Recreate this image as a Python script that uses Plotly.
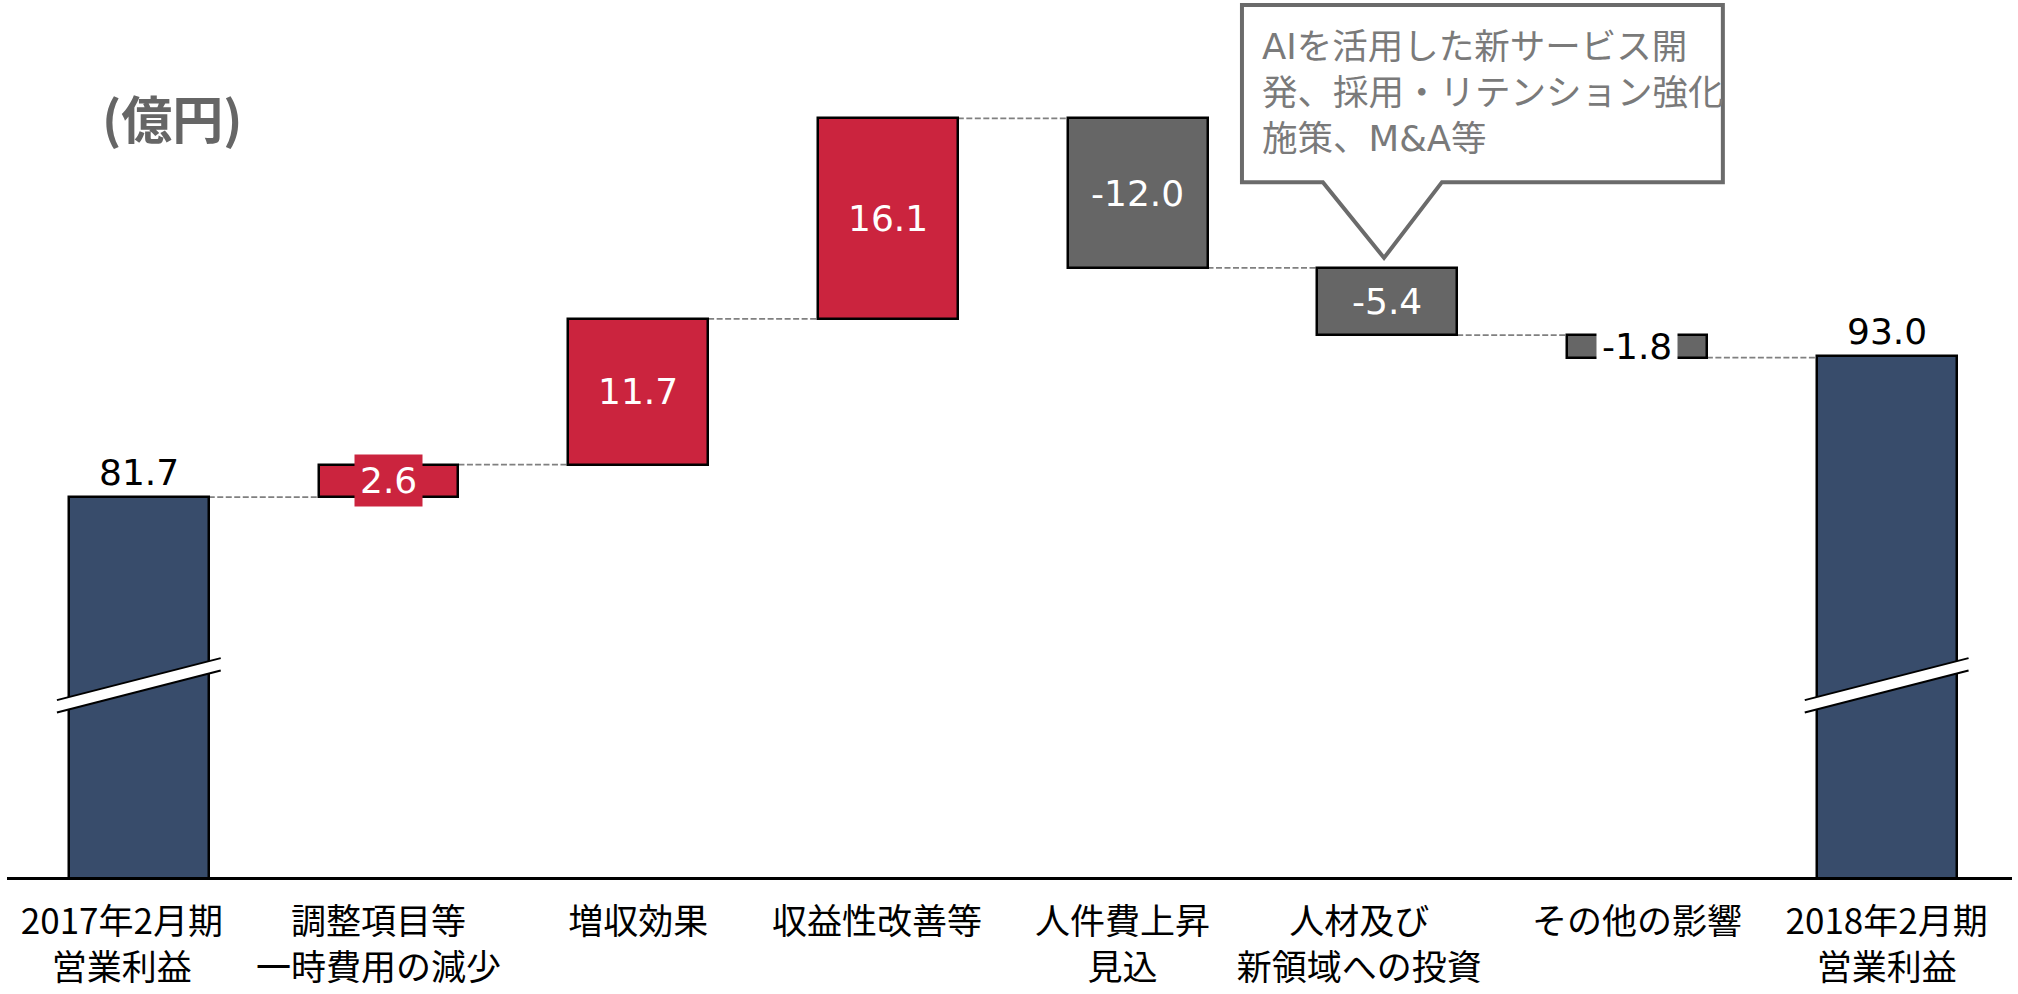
import plotly.graph_objects as go

# ---- data -------------------------------------------------------------
categories = [
    "2017年2月期<br>営業利益",
    "調整項目等<br>一時費用の減少",
    "増収効果",
    "収益性改善等",
    "人件費上昇<br>見込",
    "人材及び<br>新領域への投資",
    "その他の影響",
    "2018年2月期<br>営業利益",
]
start_total = 81.7
deltas = [2.6, 11.7, 16.1, -12.0, -5.4, -1.8]
end_total = 93.0
unit_label = "(億円)"
callout_text = "AIを活用した新サービス開<br>発、採用・リテンション強化<br>施策、M&amp;A等"

# ---- style ------------------------------------------------------------
NAVY = "#384C6B"
RED = "#CB243E"
GRAY = "#666666"
BAR_W = 0.56
NUM_FONT = "DejaVu Sans, Verdana, sans-serif"
JP_FONT = "Noto Sans CJK JP, sans-serif"
Y_MIN, Y_MAX = 51.2, 121.6
# small horizontal nudges of the category captions (category units)
LABEL_NUDGE = [-0.068, -0.040, 0.0, -0.044, -0.060, -0.112, 0.0, 0.0]

n = len(categories)
xs = list(range(n))

# running totals -> floating bars
bases, heights, colors = [0.0], [start_total], [NAVY]
levels = [start_total]
run = start_total
for d in deltas:
    lo, hi = min(run, run + d), max(run, run + d)
    bases.append(lo)
    heights.append(hi - lo)
    colors.append(RED if d > 0 else GRAY)
    run += d
    levels.append(run)
bases.append(0.0)
heights.append(end_total)
colors.append(NAVY)

fig = go.Figure()
fig.add_trace(go.Bar(
    x=xs, y=heights, base=bases, width=BAR_W,
    marker=dict(color=colors, line=dict(color="black", width=2.5)),
    hoverinfo="skip", showlegend=False,
))

shapes = []
annotations = []

# dashed connectors between consecutive bars
for i in range(n - 1):
    y = levels[i]
    shapes.append(dict(
        type="line", xref="x", yref="y",
        x0=i + BAR_W / 2, x1=i + 1 - BAR_W / 2, y0=y, y1=y,
        line=dict(color="#808080", width=1.8, dash="6px,2.5px"), layer="below",
    ))

# totals labelled above the bars
for i, v in ((0, start_total), (n - 1, end_total)):
    annotations.append(dict(
        x=i, y=v, xref="x", yref="y", text=f"{v:.1f}", showarrow=False,
        yanchor="bottom", yshift=2,
        font=dict(family=NUM_FONT, size=36, color="black"),
    ))

# delta labels centred in the bars
for k, d in enumerate(deltas):
    i = k + 1
    mid = bases[i] + heights[i] / 2
    small = abs(d) < 3
    if d > 0:
        fc, bg = "white", (RED if small else None)
    else:
        fc, bg = ("black", "white") if small else ("white", None)
    ann = dict(
        x=i, y=mid, xref="x", yref="y", text=f"{d:.1f}", showarrow=False,
        xanchor="center", yanchor="middle",
        font=dict(family=NUM_FONT, size=36, color=fc),
    )
    if bg:
        ann.update(bgcolor=bg, borderpad=5)
    annotations.append(ann)

# axis break marks on the two total bars
BREAK_Y = 65.4
for i in (0, n - 1):
    xl, xr = i - 0.328, i + 0.328
    rise, gap = 3.37, 1.0
    shapes.append(dict(
        type="path", xref="x", yref="y", layer="above",
        path=(f"M {xl},{BREAK_Y} L {xr},{BREAK_Y + rise} "
              f"L {xr},{BREAK_Y + rise - gap} L {xl},{BREAK_Y - gap} Z"),
        fillcolor="white", line=dict(width=0),
    ))
    for off in (0, -gap):
        shapes.append(dict(
            type="line", xref="x", yref="y", layer="above",
            x0=xl, y0=BREAK_Y + off, x1=xr, y1=BREAK_Y + rise + off,
            line=dict(color="black", width=2),
        ))

# speech-bubble callout pointing at the investment bar
ci = 5
bar_top = levels[ci - 1]
tip_y = bar_top + 0.8
bx0, bx1 = ci - 0.582, ci + 1.344
by0, by1 = 106.98, 121.19
px0, px1, ptx = ci - 0.258, ci + 0.219, ci - 0.013
shapes.append(dict(
    type="path", xref="x", yref="y", layer="above",
    path=(f"M {bx0},{by1} L {bx1},{by1} L {bx1},{by0} L {px1},{by0} "
          f"L {ptx},{tip_y} L {px0},{by0} L {bx0},{by0} Z"),
    fillcolor="white", line=dict(color="#6B6B6B", width=4),
))
annotations.append(dict(
    x=bx0 + 0.072, y=by1 - 1.5, xref="x", yref="y", text=callout_text,
    showarrow=False, xanchor="left", yanchor="top", align="left",
    font=dict(family="DejaVu Sans, Noto Sans CJK JP, sans-serif", size=35.5, color="#7A7A7A"),
))

# unit label
annotations.append(dict(
    x=0.0823, y=0.8666, xref="paper", yref="paper", text=f"<b>{unit_label}</b>",
    showarrow=False, xanchor="center", yanchor="middle",
    font=dict(family=JP_FONT, size=51, color="#666666"),
))

fig.update_layout(
    width=2018, height=994,
    margin=dict(l=7, r=6, t=0, b=117),
    paper_bgcolor="white", plot_bgcolor="white",
    bargap=0, showlegend=False,
    shapes=shapes, annotations=annotations,
    xaxis=dict(
        range=[-0.528, 7.502], tickmode="array",
        tickvals=[x + dx for x, dx in zip(xs, LABEL_NUDGE)], ticktext=categories,
        showline=True, linecolor="black", linewidth=3, ticks="",
        showgrid=False, zeroline=False, fixedrange=True,
        tickfont=dict(family=JP_FONT, size=35, color="black"),
        ticklabelstandoff=12,
    ),
    yaxis=dict(
        range=[Y_MIN, Y_MAX], visible=False, showgrid=False, zeroline=False,
        fixedrange=True,
    ),
)

fig.write_html("out.html")
